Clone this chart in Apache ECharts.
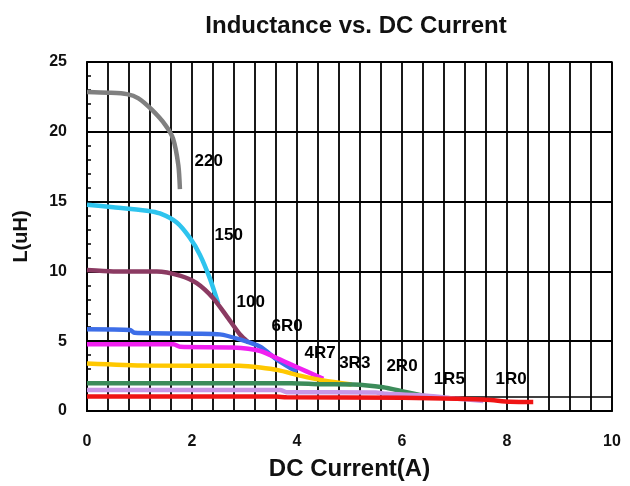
<!DOCTYPE html>
<html>
<head>
<meta charset="utf-8">
<script src="https://cdn.jsdelivr.net/npm/echarts@6/dist/echarts.min.js"></script>
<style>html,body{margin:0;padding:0;background:#fff}#c{width:630px;height:486px}</style>
</head>
<body>
<div id="c"></div>
<script>
const xTicks = [0, 2, 4, 6, 8, 10];
const yTicks = [0, 5, 10, 15, 20, 25];

const s220 = [[0,22.85],[0.4,22.8],[0.76,22.7],[0.98,22.4],[1.23,21.6],[1.49,20.5],[1.64,19.5],[1.74,17.6],[1.77,15.9]];
const s150 = [[0,14.77],[0.5,14.6],[1.14,14.35],[1.39,14.15],[1.71,13.5],[1.96,12.4],[2.15,11.2],[2.34,9.5],[2.5,7.7]];
const s100 = [[0,10.1],[0.5,10.0],[1.33,10.0],[1.77,9.7],[2.09,9.16],[2.4,8.1],[2.66,6.8],[2.91,5.5],[3.08,4.9]];
const s6R0 = [[0,5.85],[0.82,5.8],[0.91,5.6],[2.09,5.54],[2.53,5.49],[2.91,5.13],[3.3,4.6],[3.61,3.7],[4.0,2.8]];
const s4R7 = [[0,4.78],[1.65,4.78],[1.77,4.6],[2.78,4.55],[3.3,4.3],[3.67,3.7],[3.87,3.36],[4.18,2.84],[4.5,2.3]];
const s3R3 = [[0,3.41],[1.14,3.26],[2.91,3.24],[3.3,3.12],[3.64,2.93],[4.06,2.53],[4.5,2.18],[5.04,1.9]];
const s2R0 = [[0,1.99],[3.9,1.99],[4.44,1.92],[5.07,1.9],[5.64,1.7],[6.02,1.4],[6.47,1.04]];
const s1R5 = [[0,1.51],[3.68,1.51],[3.8,1.35],[5.5,1.33],[5.7,1.23],[6.47,1.1],[7.0,0.9],[7.55,0.72]];
const s1R0 = [[0,1.04],[3.6,1.04],[3.8,0.98],[6.02,0.95],[7.04,0.87],[7.61,0.8],[8.06,0.66],[8.5,0.64]];

const names = ['220','150','100','6R0','4R7','3R3','2R0','1R5','1R0'];
const colors = ['#808080','#2EC4EE','#8B3A62','#3D6EE8','#F020F0','#FFC800','#3C8C5A','#C898E6','#F01414'];
const allData = [s220, s150, s100, s6R0, s4R7, s3R3, s2R0, s1R5, s1R0];
const labelPos = [[2.32,17.9],[2.7,12.6],[3.12,7.8],[3.81,6.1],[4.44,4.1],[5.1,3.4],[6.0,3.2],[6.9,2.3],[8.08,2.3]];
const extraGridY = [1];

const FONT = 'Liberation Sans, Arial, sans-serif';
const chart = echarts.init(document.getElementById('c'));
const series = allData.map((d, i) => ({
  name: names[i], type: 'line', data: d, smooth: 0.25, showSymbol: false,
  lineStyle: {color: colors[i], width: 4.5}, z: 3 + i
}));
series.push({
  type: 'custom', z: 20, silent: true,
  data: labelPos.map((p, i) => [p[0], p[1], i]),
  encode: {x: 0, y: 1},
  renderItem: (params, api) => {
    const pt = api.coord([api.value(0), api.value(1)]);
    return {type: 'text', x: pt[0], y: pt[1],
      style: {text: names[api.value(2)], fill: '#000', align: 'center', verticalAlign: 'middle',
        font: 'bold 17px ' + FONT}};
  },
  markLine: {silent: true, symbol: 'none', label: {show: false},
    lineStyle: {color: '#000', width: 1.5, type: 'solid'},
    data: extraGridY.map(v => ({yAxis: v}))}
});

chart.setOption({
  animation: false,
  backgroundColor: '#fff',
  title: {text: 'Inductance vs. DC Current', left: 351, top: 9, textAlign: 'center',
    textStyle: {fontFamily: FONT, fontWeight: 'bold', fontSize: 24, color: '#111'}},
  grid: {left: 87, right: 18, top: 62, bottom: 71, show: true, borderColor: '#000', borderWidth: 1.5},
  xAxis: {type: 'value', min: 0, max: 10, interval: 2,
    name: 'DC Current(A)', nameLocation: 'middle', nameGap: 46,
    nameTextStyle: {fontFamily: FONT, fontWeight: 'bold', fontSize: 24, color: '#111'},
    axisLine: {show: true, lineStyle: {color: '#000', width: 2}},
    axisTick: {show: false},
    axisLabel: {margin: 23, fontFamily: FONT, fontWeight: 'bold', fontSize: 16, color: '#111',
      formatter: v => xTicks.includes(v) ? String(v) : ''},
    splitLine: {show: true, lineStyle: {color: '#000', width: 1.8}},
    minorTick: {show: false, splitNumber: 5},
    minorSplitLine: {show: true, lineStyle: {color: '#000', width: 1.8}}
  },
  yAxis: {type: 'value', min: 0, max: 25, interval: 5,
    name: 'L(uH)', nameLocation: 'middle', nameGap: 56,
    nameTextStyle: {fontFamily: FONT, fontWeight: 'bold', fontSize: 20, color: '#111'},
    axisLine: {show: true, lineStyle: {color: '#000', width: 2}},
    axisTick: {show: true, inside: true, length: 5, lineStyle: {color: '#000', width: 1.5}},
    minorTick: {show: true, splitNumber: 5, length: 4, lineStyle: {color: '#000', width: 1.5}},
    axisLabel: {margin: 20, fontFamily: FONT, fontWeight: 'bold', fontSize: 16, color: '#111',
      formatter: v => yTicks.includes(v) ? String(v) : ''},
    splitLine: {show: true, lineStyle: {color: '#000', width: 1.8}}
  },
  series: series
});
</script>
</body>
</html>
